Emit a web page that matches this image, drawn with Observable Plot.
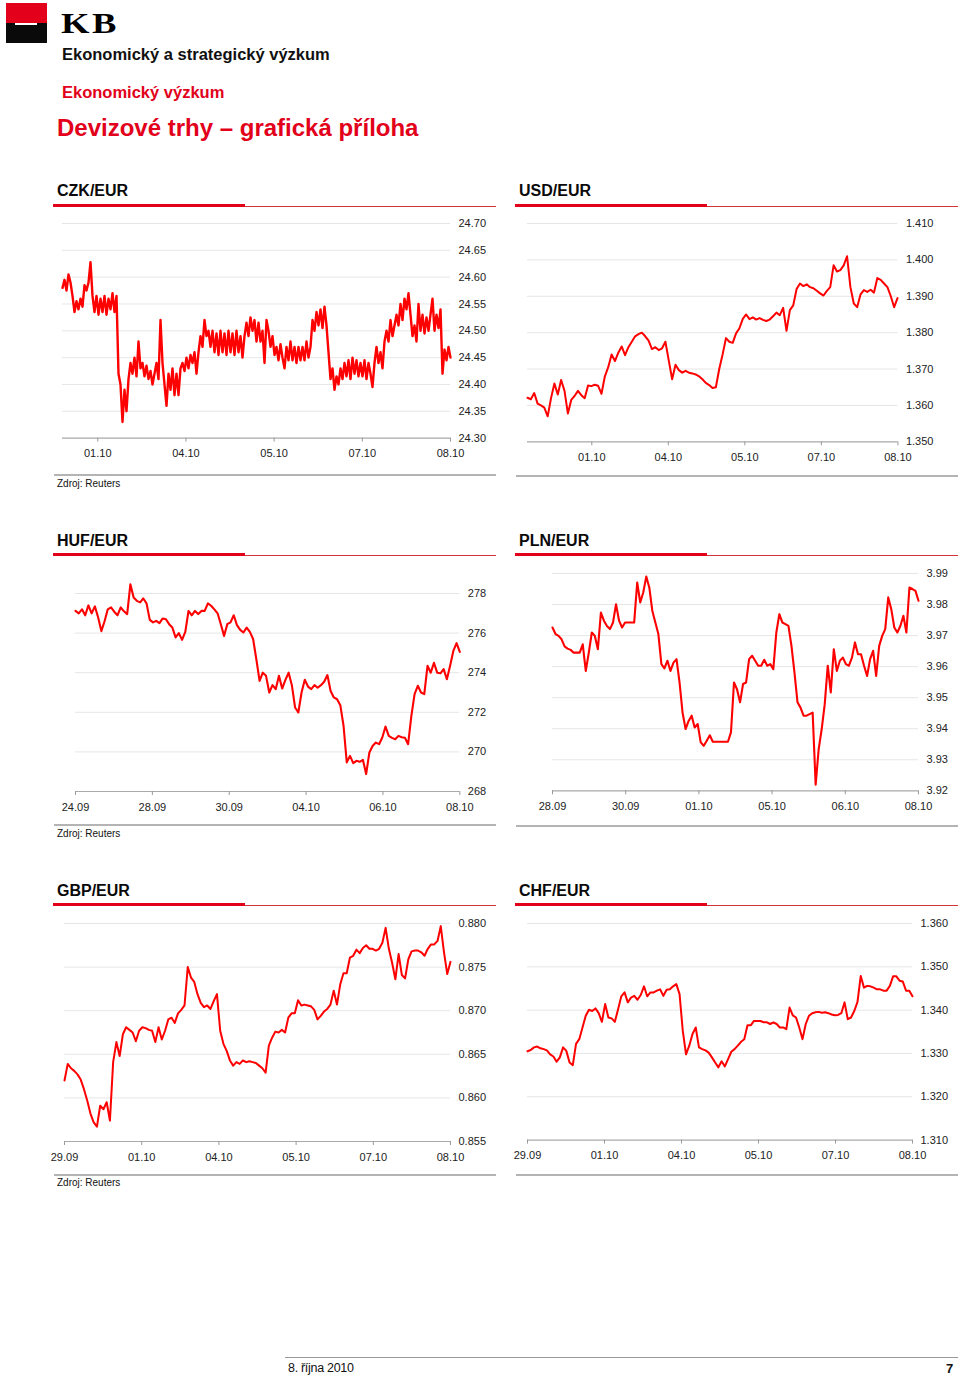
<!DOCTYPE html>
<html>
<head>
<meta charset="utf-8">
<script src="https://cdn.jsdelivr.net/npm/d3@7"></script>
<script src="https://cdn.jsdelivr.net/npm/@observablehq/plot@0.6"></script>
<style>
  html, body { margin: 0; padding: 0; background: #fff; }
  #page { position: relative; width: 960px; height: 1378px; background: #fff; overflow: hidden; font-family: "Liberation Sans", Arial, sans-serif; }
  #page svg { overflow: visible; }
</style>
</head>
<body>
<div id="page"></div>
<script>
// ---------------- DATA ----------------
const czkDates = ["01.10", "04.10", "05.10", "07.10", "08.10"];
const czkTicks = [24.30, 24.35, 24.40, 24.45, 24.50, 24.55, 24.60, 24.65, 24.70];
const czkSpan = [-0.4, 4];
const czkValues = [
 24.58,24.595,24.575,24.605,24.59,24.565,24.535,24.555,24.54,24.56,
 24.545,24.585,24.575,24.59,24.628,24.565,24.535,24.565,24.53,24.56,
 24.535,24.565,24.53,24.56,24.54,24.57,24.535,24.565,24.42,24.40,
 24.33,24.39,24.35,24.41,24.44,24.42,24.45,24.415,24.48,24.43,
 24.44,24.415,24.435,24.41,24.425,24.40,24.42,24.44,24.41,24.52,
 24.44,24.40,24.36,24.42,24.39,24.43,24.38,24.42,24.38,24.43,
 24.44,24.425,24.45,24.43,24.455,24.44,24.46,24.42,24.46,24.49,
 24.47,24.52,24.49,24.50,24.47,24.50,24.46,24.495,24.455,24.50,
 24.46,24.495,24.455,24.50,24.46,24.495,24.455,24.50,24.46,24.49,
 24.45,24.49,24.515,24.49,24.525,24.50,24.52,24.48,24.515,24.48,
 24.50,24.44,24.52,24.50,24.47,24.49,24.455,24.47,24.445,24.475,
 24.45,24.43,24.47,24.445,24.48,24.445,24.47,24.44,24.47,24.445,
 24.47,24.445,24.48,24.45,24.47,24.52,24.50,24.535,24.51,24.54,
 24.505,24.545,24.51,24.46,24.41,24.43,24.39,24.415,24.40,24.43,
 24.41,24.44,24.415,24.445,24.41,24.45,24.42,24.445,24.415,24.44,
 24.415,24.445,24.41,24.44,24.42,24.395,24.44,24.47,24.44,24.46,
 24.43,24.48,24.50,24.48,24.52,24.49,24.51,24.53,24.51,24.55,
 24.52,24.56,24.54,24.57,24.53,24.49,24.51,24.48,24.55,24.50,
 24.53,24.495,24.525,24.50,24.53,24.56,24.50,24.53,24.505,24.54,
 24.42,24.465,24.445,24.47,24.45];

const usdDates = ["01.10", "04.10", "05.10", "07.10", "08.10"];
const usdTicks = [1.35, 1.36, 1.37, 1.38, 1.39, 1.40, 1.41];
const usdSpan = [-0.84, 3.995];
const usdValues = [1.3621,1.3617,1.3634,1.3605,1.3600,1.3594,1.3570,1.3620,1.3660,1.3630,
 1.3670,1.3640,1.3578,1.3615,1.3626,1.3640,1.3628,1.3620,1.3655,1.3653,
 1.3657,1.3654,1.3632,1.3680,1.3705,1.3740,1.3722,1.3745,1.3762,1.3738,
 1.3760,1.3775,1.3790,1.3796,1.3800,1.3790,1.3778,1.3755,1.3760,1.3752,
 1.3757,1.3775,1.3723,1.3672,1.3712,1.3697,1.3690,1.3695,1.3690,1.3688,
 1.3685,1.3680,1.3672,1.3662,1.3656,1.3648,1.3650,1.3700,1.3740,1.3785,
 1.3775,1.3772,1.3798,1.3812,1.3838,1.3850,1.3837,1.3842,1.3836,1.3840,
 1.3835,1.3832,1.3836,1.3845,1.3855,1.3848,1.3868,1.3805,1.3862,1.3875,
 1.3920,1.3935,1.3928,1.3933,1.3925,1.3922,1.3915,1.3908,1.3902,1.3915,
 1.3925,1.3985,1.3968,1.3972,1.3985,1.4010,1.3925,1.3880,1.3870,1.3905,
 1.3917,1.3912,1.3918,1.3910,1.3950,1.3945,1.3935,1.3925,1.3900,1.3870,
 1.3895];

const hufDates = ["24.09", "28.09", "30.09", "04.10", "06.10", "08.10"];
const hufTicks = [268, 270, 272, 274, 276, 278];
const hufSpan = [0, 5];
const hufValues = [277.12,277.0,277.2,276.9,277.4,277.0,277.35,276.8,276.1,276.6,
 277.2,277.3,277.08,276.9,277.3,277.1,276.96,278.47,277.8,277.63,
 277.55,277.75,277.5,276.67,276.54,276.62,276.5,276.74,276.7,276.45,
 276.28,275.78,276.0,275.66,276.06,277.12,276.9,277.12,276.96,277.12,
 277.12,277.5,277.38,277.2,277.0,276.45,275.86,276.45,276.54,276.9,
 276.4,276.16,276.03,276.28,276.06,275.7,274.68,273.59,274.0,273.84,
 273.0,273.37,273.17,273.84,273.2,273.64,274.0,273.37,272.24,271.99,
 273.0,273.64,273.3,273.17,273.37,273.24,273.37,273.54,273.88,273.08,
 272.75,272.66,272.36,271.32,269.47,269.8,269.43,269.55,269.5,269.6,
 268.88,269.97,270.3,270.47,270.39,270.73,271.28,270.81,270.71,270.64,
 270.81,270.74,270.71,270.39,271.82,272.92,273.34,273.0,272.92,274.35,
 274.0,274.5,274.0,273.97,274.18,273.67,274.35,275.1,275.49,275.05];

const plnDates = ["28.09", "30.09", "01.10", "05.10", "06.10", "08.10"];
const plnTicks = [3.92, 3.93, 3.94, 3.95, 3.96, 3.97, 3.98, 3.99];
const plnSpan = [0, 5];
const plnValues = [3.9726,3.9705,3.9699,3.9688,3.9665,3.9658,3.9654,3.9645,3.9645,3.9645,
 3.9672,3.9586,3.9645,3.9710,3.9699,3.9656,3.9774,3.9748,3.9731,3.9721,
 3.9742,3.9801,3.9748,3.9726,3.9742,3.9742,3.9742,3.9742,3.9871,3.9807,
 3.9839,3.9890,3.9855,3.9780,3.9742,3.9705,3.9608,3.9594,3.9619,3.9586,
 3.9613,3.9624,3.9549,3.9452,3.9399,3.9425,3.9442,3.9404,3.9415,3.9356,
 3.9345,3.9361,3.9379,3.9358,3.9358,3.9358,3.9358,3.9358,3.9358,3.9388,
 3.9549,3.9527,3.9485,3.9544,3.9549,3.9624,3.9635,3.9619,3.9603,3.9603,
 3.9622,3.9603,3.9608,3.9592,3.9710,3.9769,3.9742,3.9737,3.9731,3.9667,
 3.9581,3.9485,3.9468,3.9442,3.9442,3.9447,3.9452,3.9220,3.9334,3.9399,
 3.9479,3.9603,3.9517,3.9656,3.9586,3.9619,3.9629,3.9608,3.9603,3.9629,
 3.9678,3.9640,3.9640,3.9603,3.9570,3.9624,3.9651,3.9570,3.9667,3.9699,
 3.9721,3.9823,3.9785,3.9726,3.9710,3.9731,3.9764,3.9710,3.9855,3.9850,
 3.9844,3.9812];

const gbpDates = ["29.09", "01.10", "04.10", "05.10", "07.10", "08.10"];
const gbpTicks = [0.855, 0.860, 0.865, 0.870, 0.875, 0.880];
const gbpSpan = [0, 5];
const gbpValues = [0.8620,0.8639,0.8634,0.8631,0.8627,0.8621,0.8610,0.8597,0.8582,0.8572,
 0.8567,0.8591,0.8587,0.8595,0.8574,0.8641,0.8664,0.8648,0.8673,0.8681,
 0.8678,0.8675,0.8665,0.8677,0.8681,0.8680,0.8678,0.8677,0.8664,0.8681,
 0.8667,0.8677,0.8690,0.8692,0.8686,0.8697,0.8701,0.8706,0.8750,0.8738,
 0.8733,0.8719,0.8709,0.8704,0.8706,0.8702,0.8711,0.8719,0.8677,0.8662,
 0.8654,0.8643,0.8637,0.8641,0.8639,0.8643,0.8641,0.8642,0.8641,0.8640,
 0.8637,0.8634,0.8629,0.8660,0.8669,0.8676,0.8675,0.8678,0.8675,0.8692,
 0.8697,0.8697,0.8712,0.8706,0.8707,0.8706,0.8705,0.8701,0.8690,0.8694,
 0.8699,0.8702,0.8707,0.8723,0.8707,0.8730,0.8743,0.8743,0.8761,0.8763,
 0.8770,0.8766,0.8772,0.8775,0.8771,0.8771,0.8769,0.8771,0.8778,0.8795,
 0.8771,0.8755,0.8736,0.8765,0.8741,0.8737,0.8759,0.8768,0.8769,0.8769,
 0.8767,0.8763,0.8771,0.8776,0.8776,0.8780,0.8797,0.8767,0.8742,0.8756];

const chfDates = ["29.09", "01.10", "04.10", "05.10", "07.10", "08.10"];
const chfTicks = [1.31, 1.32, 1.33, 1.34, 1.35, 1.36];
const chfSpan = [0, 5];
const chfValues = [1.3305,1.3308,1.3314,1.3316,1.3312,1.3310,1.3307,1.3298,1.3293,1.3281,
 1.3291,1.3314,1.3306,1.3279,1.3273,1.3322,1.3333,1.3360,1.3387,1.3401,
 1.3398,1.3404,1.3393,1.3373,1.3414,1.3383,1.3381,1.3373,1.3402,1.3432,
 1.3441,1.3418,1.3429,1.3433,1.3424,1.3435,1.3455,1.3432,1.3441,1.3441,
 1.3445,1.3448,1.3433,1.3447,1.3448,1.3455,1.3460,1.3437,1.3352,1.3298,
 1.3318,1.3345,1.3360,1.3314,1.3310,1.3307,1.3302,1.3291,1.3279,1.3268,
 1.3282,1.3270,1.3287,1.3304,1.3310,1.3318,1.3327,1.3333,1.3365,1.3365,
 1.3375,1.3375,1.3375,1.3372,1.3372,1.3368,1.3372,1.3368,1.3360,1.3360,
 1.3356,1.3406,1.3388,1.3383,1.3360,1.3333,1.3368,1.3387,1.3393,1.3395,
 1.3396,1.3394,1.3395,1.3393,1.3390,1.3388,1.3389,1.3393,1.3418,1.3379,
 1.3383,1.3398,1.3419,1.3479,1.3452,1.3456,1.3455,1.3452,1.3448,1.3448,
 1.3445,1.3445,1.3456,1.3478,1.3478,1.3468,1.3466,1.3445,1.3445,1.3432];

// ---------------- LAYOUT ----------------
const RED = "#e2001a";
const LINE_RED = "#ff0000";
const FONT = "'Liberation Sans', Arial, Helvetica, sans-serif";
const page = document.getElementById("page");

function rect(x, y, w, h, color) {
  const d = document.createElement("div");
  Object.assign(d.style, {position: "absolute", left: x + "px", top: y + "px", width: w + "px", height: h + "px", background: color});
  page.appendChild(d);
  return d;
}
function text(x, yc, str, size, weight, color, extra) {
  const d = document.createElement("div");
  d.textContent = str;
  Object.assign(d.style, {
    position: "absolute", left: x + "px", top: (yc - size * 0.5) + "px",
    font: `${weight} ${size}px/${size}px ${FONT}`, color: color, whiteSpace: "nowrap"
  }, extra || {});
  page.appendChild(d);
  return d;
}

// Header
rect(6, 3, 41, 20, RED);
rect(6, 23, 41, 20, "#0a0a0a");
rect(15, 23, 22, 2, "#fff");
text(61, 23, "KB", 30, "bold", "#000", {fontFamily: "'Liberation Serif', 'DejaVu Serif', serif", letterSpacing: "2px", transform: "scaleX(1.22)", transformOrigin: "left center"});
text(62, 54, "Ekonomický a strategický výzkum", 16.5, "bold", "#111");
text(62, 92, "Ekonomický výzkum", 16.5, "bold", RED);
text(57, 128, "Devizové trhy – grafická příloha", 24, "bold", RED);

// Footer
rect(285, 1357, 673, 1, "#9a9a9a");
text(288, 1368, "8. října 2010", 12.5, "normal", "#111", {letterSpacing: "-0.3px"});
text(946, 1368, "7", 13, "bold", "#111");

const panels = [
  {title: "CZK/EUR", col: 0, titleY: 191, barY: 204, fx: [62, 450], fy: [222.7, 437.3], ruleY: 474, sourceY: 484,
   dates: czkDates, ticks: czkTicks, span: czkSpan, values: czkValues, xdom: [-0.4, 4], dec: 2, sw: 2.4},
  {title: "USD/EUR", col: 1, titleY: 191, barY: 204, fx: [527.3, 897.7], fy: [222.7, 441], ruleY: 475, sourceY: null,
   dates: usdDates, ticks: usdTicks, span: usdSpan, values: usdValues, xdom: [-0.84, 4], dec: 3, sw: 2},
  {title: "HUF/EUR", col: 0, titleY: 541, barY: 553, fx: [75, 459.3], fy: [592.7, 790.7], ruleY: 824, sourceY: 833.5,
   dates: hufDates, ticks: hufTicks, span: hufSpan, values: hufValues, xdom: [0, 5], dec: 0, sw: 2.1},
  {title: "PLN/EUR", col: 1, titleY: 541, barY: 553, fx: [552.3, 918.3], fy: [572.7, 790], ruleY: 825, sourceY: null,
   dates: plnDates, ticks: plnTicks, span: plnSpan, values: plnValues, xdom: [0, 5], dec: 2, sw: 2.1},
  {title: "GBP/EUR", col: 0, titleY: 891, barY: 903, fx: [64, 450], fy: [922.7, 1140.7], ruleY: 1174, sourceY: 1183,
   dates: gbpDates, ticks: gbpTicks, span: gbpSpan, values: gbpValues, xdom: [0, 5], dec: 3, sw: 2},
  {title: "CHF/EUR", col: 1, titleY: 891, barY: 903, fx: [527.3, 912.3], fy: [922.7, 1139.3], ruleY: 1174, sourceY: null,
   dates: chfDates, ticks: chfTicks, span: chfSpan, values: chfValues, xdom: [0, 5], dec: 3, sw: 2}
];

const cols = [{x0: 53, x1: 496, tx: 57}, {x0: 515, x1: 958, tx: 519}];

for (const p of panels) {
  const c = cols[p.col];
  // title & bars
  text(c.tx, p.titleY, p.title, 16, "bold", "#0a0a0a");
  rect(c.x0, p.barY, 192, 3, RED);
  rect(c.x0 + 192, p.barY + 1.5, c.x1 - c.x0 - 192, 1.3, "#d5323a");
  rect(c.x0 + 1, p.ruleY, c.x1 - c.x0 - 1, 1.5, "#b4b4b4");
  if (p.sourceY) text(c.tx, p.sourceY, "Zdroj: Reuters", 10, "normal", "#111");

  // chart
  const svgLeft = p.fx[0] - 24, svgTop = p.fy[0] - 14;
  const W = Math.round(p.fx[1] + 40 - svgLeft), H = Math.round(p.fy[1] + 26 - svgTop);
  const n = p.values.length;
  const data = p.values.map((v, i) => ({t: p.span[0] + i * (p.span[1] - p.span[0]) / (n - 1), v}));
  const ymin = p.ticks[0], ymax = p.ticks[p.ticks.length - 1];
  const chart = Plot.plot({
    width: W, height: H,
    marginLeft: p.fx[0] - svgLeft,
    marginRight: svgLeft + W - p.fx[1],
    marginTop: p.fy[0] - svgTop,
    marginBottom: svgTop + H - p.fy[1],
    x: {domain: p.xdom},
    y: {domain: [ymin, ymax]},
    style: {fontFamily: FONT, fontSize: "11px", color: "#222", background: "transparent", overflow: "visible"},
    marks: [
      Plot.ruleY(p.ticks.slice(1), {stroke: "#e6e6e6", strokeWidth: 1}),
      Plot.ruleY([ymin], {stroke: "#a9a9a9", strokeWidth: 1.2}),
      Plot.axisY({anchor: "right", label: null, ticks: p.ticks, tickSize: 0, tickPadding: 8, tickFormat: d => d.toFixed(p.dec), fill: "#222", fontSize: 11}),
      Plot.axisX({anchor: "bottom", label: null, ticks: p.dates.map((d, i) => i), tickSize: 4, tickPadding: 7.5, tickFormat: i => p.dates[i], stroke: "#9a9a9a", fill: "#222", fontSize: 11}),
      Plot.line(data, {x: "t", y: "v", stroke: LINE_RED, strokeWidth: p.sw, strokeLinejoin: "round"})
    ]
  });
  const wrap = document.createElement("div");
  Object.assign(wrap.style, {position: "absolute", left: svgLeft + "px", top: svgTop + "px", width: W + "px", height: H + "px"});
  wrap.appendChild(chart);
  page.appendChild(wrap);
}
</script>
</body>
</html>
